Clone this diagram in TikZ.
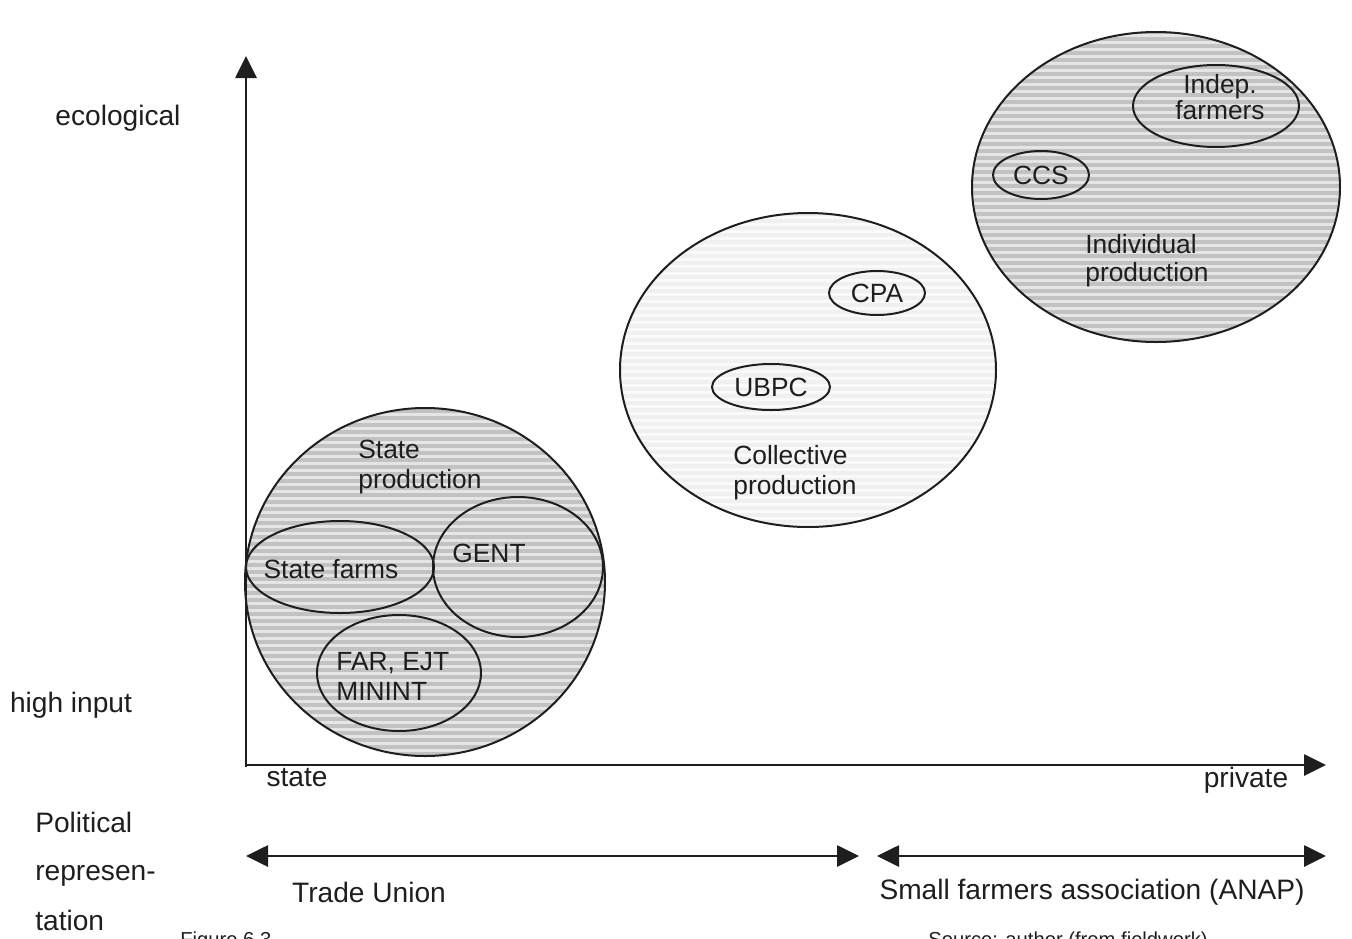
\documentclass[tikz,border=0pt]{standalone}
\usepackage{fontspec}
\setmainfont{Liberation Sans}
\usetikzlibrary{arrows.meta,shapes.geometric}
\definecolor{ink}{HTML}{1E1E1E}
\tikzset{
  axisline/.style={draw=ink,line width=0.55mm,-{Triangle[length=4.4mm,width=4.2mm]}},
  dblarrow/.style={draw=ink,line width=0.55mm,{Triangle[length=4.4mm,width=4.2mm]}-{Triangle[length=4.4mm,width=4.2mm]}},
  outline/.style={draw=ink,line width=0.4mm},
  stripe/.style={draw=gray!48,line width=0.7mm},
  faintstripe/.style={draw=gray!12,line width=0.7mm},
  outer/.style={text=ink,inner sep=0pt,font=\fontsize{16}{18}\selectfont},
  inner/.style={text=ink,inner sep=0pt,font=\fontsize{15}{17}\selectfont},
  small/.style={text=ink,inner sep=0pt,font=\fontsize{11.5}{13}\selectfont},
}
\begin{document}
\begin{tikzpicture}[x=0.2mm,y=-0.2mm]
\useasboundingbox (0,0) rectangle (1352,939);

% ---- hatched areas ----
\begin{scope}
  \clip (425,582) ellipse [x radius=180, y radius=174];
  \fill[gray!20] (240,400) rectangle (610,760);
  \foreach \y in {404,411,...,760} \draw[stripe] (240,\y) -- (610,\y);
\end{scope}
\begin{scope}
  \clip (1156,187) ellipse [x radius=184, y radius=155];
  \fill[gray!20] (970,30) rectangle (1342,344);
  \foreach \y in {32,39,...,344} \draw[stripe] (970,\y) -- (1342,\y);
\end{scope}
\begin{scope}
  \clip (808,370) ellipse [x radius=188, y radius=157];
  \fill[gray!4] (618,210) rectangle (998,530);
  \foreach \y in {214,221,...,530} \draw[faintstripe] (618,\y) -- (998,\y);
\end{scope}

% ---- circles and ellipses ----
\draw[outline] (425,582) ellipse [x radius=180, y radius=174];
\draw[outline] (340,567) ellipse [x radius=94, y radius=46];
\draw[outline] (518,567) ellipse [x radius=85, y radius=70];
\draw[outline] (399,673) ellipse [x radius=82, y radius=58];
\draw[outline] (808,370) ellipse [x radius=188, y radius=157];
\draw[outline] (877,293) ellipse [x radius=48, y radius=22];
\draw[outline] (771,387) ellipse [x radius=59, y radius=23];
\draw[outline] (1156,187) ellipse [x radius=184, y radius=155];
\draw[outline] (1216,106) ellipse [x radius=83, y radius=41];
\draw[outline] (1041,175) ellipse [x radius=48, y radius=24];

% ---- axes ----
\coordinate (O) at (246,767);
\coordinate (Ytop) at (246,56);
\coordinate (Xorig) at (245,765);
\coordinate (Xend) at (1326,765);
\draw[axisline] (O) -- (Ytop);
\draw[axisline] (Xorig) -- (Xend);

\coordinate (tuL) at (246,856);
\coordinate (tuR) at (859,856);
\coordinate (saL) at (877,856);
\coordinate (saR) at (1326,856);
\draw[dblarrow] (tuL) -- (tuR);
\draw[dblarrow] (saL) -- (saR);

% ---- outer labels ----
\node[outer] (eco) at (118,118) {ecological};
\node[outer] (high) at (71,705) {high input};
\node[outer] (state) at (297,778) {state};
\node[outer] (private) at (1246,780) {private};
\node[outer,anchor=base west] (pol1) at (35,832) {Political};
\node[outer,anchor=base west] (pol2) at (35,880) {represen-};
\node[outer,anchor=base west] (pol3) at (35,930) {tation};
\node[outer] (trade) at (369,892) {Trade Union};
\node[outer] (anap) at (1092,892) {Small farmers association (ANAP)};
\node[small,anchor=base west] (fig) at (180,946) {Figure 6.3};
\node[small,anchor=base west] (src) at (928,946) {Source: author (from fieldwork)};

% ---- inner labels ----
\node[inner,align=left,anchor=west] (stprod) at (358,467) {State\\production};
\node[inner] (stfarms) at (331,569) {State farms};
\node[inner] (gent) at (489,553) {GENT};
\node[inner,align=left,anchor=west] (far) at (336,676) {FAR, EJT\\MININT};
\node[inner] (cpa) at (877,293) {CPA};
\node[inner] (ubpc) at (771,387) {UBPC};
\node[inner,align=left,anchor=west] (coll) at (733,473) {Collective\\production};
\node[inner,align=center,font=\fontsize{15}{15}\selectfont] (indep) at (1220,97) {Indep.\\farmers};
\node[inner] (ccs) at (1041,175) {CCS};
\node[inner,align=left,anchor=west,font=\fontsize{15}{16}\selectfont] (indiv) at (1085,261) {Individual\\production};
\end{tikzpicture}
\end{document}
